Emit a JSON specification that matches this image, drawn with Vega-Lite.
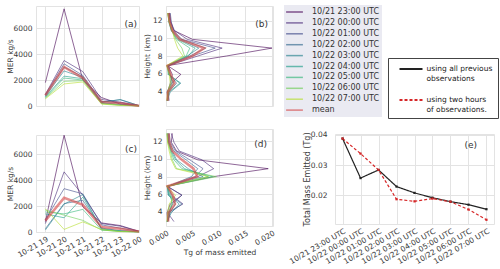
{
"$schema": "https://vega.github.io/schema/vega-lite/v6.json",
"padding": 5,
"background": "white",
"config": {
  "font": "DejaVu Sans",
  "view": {"stroke": "#e3e3e3", "strokeWidth": 1},
  "axis": {"domain": false, "ticks": false, "grid": true, "gridColor": "#e3e3e3", "gridWidth": 1, "labelFontSize": 7.5, "labelColor": "#3a3a3a", "titleFontSize": 7.5, "titleFontWeight": "normal", "titleColor": "#3a3a3a", "labelPadding": 3, "labelOverlap": false, "labelFlush": false},
  "title": {"fontSize": 9, "fontWeight": "normal", "color": "#333333"}
},
"datasets": {
"a": [
{"s":"10/21 23:00 UTC","t":19,"v":1800},{"s":"10/21 23:00 UTC","t":20,"v":7480},{"s":"10/21 23:00 UTC","t":21,"v":2000},{"s":"10/21 23:00 UTC","t":22,"v":650},{"s":"10/21 23:00 UTC","t":23,"v":150},{"s":"10/21 23:00 UTC","t":24,"v":30},
{"s":"10/22 00:00 UTC","t":19,"v":900},{"s":"10/22 00:00 UTC","t":20,"v":3500},{"s":"10/22 00:00 UTC","t":21,"v":2650},{"s":"10/22 00:00 UTC","t":22,"v":500},{"s":"10/22 00:00 UTC","t":23,"v":300},{"s":"10/22 00:00 UTC","t":24,"v":30},
{"s":"10/22 01:00 UTC","t":19,"v":850},{"s":"10/22 01:00 UTC","t":20,"v":3250},{"s":"10/22 01:00 UTC","t":21,"v":2350},{"s":"10/22 01:00 UTC","t":22,"v":350},{"s":"10/22 01:00 UTC","t":23,"v":250},{"s":"10/22 01:00 UTC","t":24,"v":20},
{"s":"10/22 02:00 UTC","t":19,"v":800},{"s":"10/22 02:00 UTC","t":20,"v":3000},{"s":"10/22 02:00 UTC","t":21,"v":2250},{"s":"10/22 02:00 UTC","t":22,"v":300},{"s":"10/22 02:00 UTC","t":23,"v":480},{"s":"10/22 02:00 UTC","t":24,"v":30},
{"s":"10/22 03:00 UTC","t":19,"v":750},{"s":"10/22 03:00 UTC","t":20,"v":2700},{"s":"10/22 03:00 UTC","t":21,"v":2200},{"s":"10/22 03:00 UTC","t":22,"v":280},{"s":"10/22 03:00 UTC","t":23,"v":500},{"s":"10/22 03:00 UTC","t":24,"v":20},
{"s":"10/22 04:00 UTC","t":19,"v":700},{"s":"10/22 04:00 UTC","t":20,"v":2300},{"s":"10/22 04:00 UTC","t":21,"v":2100},{"s":"10/22 04:00 UTC","t":22,"v":250},{"s":"10/22 04:00 UTC","t":23,"v":120},{"s":"10/22 04:00 UTC","t":24,"v":10},
{"s":"10/22 05:00 UTC","t":19,"v":650},{"s":"10/22 05:00 UTC","t":20,"v":2150},{"s":"10/22 05:00 UTC","t":21,"v":2000},{"s":"10/22 05:00 UTC","t":22,"v":200},{"s":"10/22 05:00 UTC","t":23,"v":80},{"s":"10/22 05:00 UTC","t":24,"v":10},
{"s":"10/22 06:00 UTC","t":19,"v":600},{"s":"10/22 06:00 UTC","t":20,"v":1900},{"s":"10/22 06:00 UTC","t":21,"v":1950},{"s":"10/22 06:00 UTC","t":22,"v":180},{"s":"10/22 06:00 UTC","t":23,"v":60},{"s":"10/22 06:00 UTC","t":24,"v":10},
{"s":"10/22 07:00 UTC","t":19,"v":550},{"s":"10/22 07:00 UTC","t":20,"v":1700},{"s":"10/22 07:00 UTC","t":21,"v":1850},{"s":"10/22 07:00 UTC","t":22,"v":150},{"s":"10/22 07:00 UTC","t":23,"v":40},{"s":"10/22 07:00 UTC","t":24,"v":10},
{"s":"mean","t":19,"v":820},{"s":"mean","t":20,"v":3000},{"s":"mean","t":21,"v":2150},{"s":"mean","t":22,"v":300},{"s":"mean","t":23,"v":220},{"s":"mean","t":24,"v":20}
],
"c": [
{"s":"10/21 23:00 UTC","t":19,"v":800},{"s":"10/21 23:00 UTC","t":20,"v":7480},{"s":"10/21 23:00 UTC","t":21,"v":1950},{"s":"10/21 23:00 UTC","t":22,"v":700},{"s":"10/21 23:00 UTC","t":23,"v":500},{"s":"10/21 23:00 UTC","t":24,"v":50},
{"s":"10/22 00:00 UTC","t":19,"v":650},{"s":"10/22 00:00 UTC","t":20,"v":4650},{"s":"10/22 00:00 UTC","t":21,"v":2850},{"s":"10/22 00:00 UTC","t":22,"v":650},{"s":"10/22 00:00 UTC","t":23,"v":450},{"s":"10/22 00:00 UTC","t":24,"v":50},
{"s":"10/22 01:00 UTC","t":19,"v":950},{"s":"10/22 01:00 UTC","t":20,"v":3350},{"s":"10/22 01:00 UTC","t":21,"v":2950},{"s":"10/22 01:00 UTC","t":22,"v":550},{"s":"10/22 01:00 UTC","t":23,"v":300},{"s":"10/22 01:00 UTC","t":24,"v":40},
{"s":"10/22 02:00 UTC","t":19,"v":250},{"s":"10/22 02:00 UTC","t":20,"v":2200},{"s":"10/22 02:00 UTC","t":21,"v":2450},{"s":"10/22 02:00 UTC","t":22,"v":300},{"s":"10/22 02:00 UTC","t":23,"v":100},{"s":"10/22 02:00 UTC","t":24,"v":30},
{"s":"10/22 03:00 UTC","t":19,"v":150},{"s":"10/22 03:00 UTC","t":20,"v":2150},{"s":"10/22 03:00 UTC","t":21,"v":2900},{"s":"10/22 03:00 UTC","t":22,"v":200},{"s":"10/22 03:00 UTC","t":23,"v":80},{"s":"10/22 03:00 UTC","t":24,"v":20},
{"s":"10/22 04:00 UTC","t":19,"v":1400},{"s":"10/22 04:00 UTC","t":20,"v":1100},{"s":"10/22 04:00 UTC","t":21,"v":2700},{"s":"10/22 04:00 UTC","t":22,"v":250},{"s":"10/22 04:00 UTC","t":23,"v":60},{"s":"10/22 04:00 UTC","t":24,"v":20},
{"s":"10/22 05:00 UTC","t":19,"v":1550},{"s":"10/22 05:00 UTC","t":20,"v":1400},{"s":"10/22 05:00 UTC","t":21,"v":1750},{"s":"10/22 05:00 UTC","t":22,"v":150},{"s":"10/22 05:00 UTC","t":23,"v":50},{"s":"10/22 05:00 UTC","t":24,"v":10},
{"s":"10/22 06:00 UTC","t":19,"v":1700},{"s":"10/22 06:00 UTC","t":20,"v":1300},{"s":"10/22 06:00 UTC","t":21,"v":900},{"s":"10/22 06:00 UTC","t":22,"v":150},{"s":"10/22 06:00 UTC","t":23,"v":40},{"s":"10/22 06:00 UTC","t":24,"v":10},
{"s":"10/22 07:00 UTC","t":19,"v":1800},{"s":"10/22 07:00 UTC","t":20,"v":200},{"s":"10/22 07:00 UTC","t":21,"v":780},{"s":"10/22 07:00 UTC","t":22,"v":200},{"s":"10/22 07:00 UTC","t":23,"v":30},{"s":"10/22 07:00 UTC","t":24,"v":10},
{"s":"mean","t":19,"v":880},{"s":"mean","t":20,"v":2640},{"s":"mean","t":21,"v":2100},{"s":"mean","t":22,"v":380},{"s":"mean","t":23,"v":250},{"s":"mean","t":24,"v":40}
],
"b": [
{"s":"10/21 23:00 UTC","h":2.9,"v":0.0004},{"s":"10/21 23:00 UTC","h":3.9,"v":0.0002},{"s":"10/21 23:00 UTC","h":4.9,"v":0.0010},{"s":"10/21 23:00 UTC","h":5.9,"v":0.0028},{"s":"10/21 23:00 UTC","h":6.9,"v":0.0003},{"s":"10/21 23:00 UTC","h":8.0,"v":0.0114},{"s":"10/21 23:00 UTC","h":8.9,"v":0.0200},{"s":"10/21 23:00 UTC","h":9.9,"v":0.0050},{"s":"10/21 23:00 UTC","h":10.9,"v":0.0015},{"s":"10/21 23:00 UTC","h":11.9,"v":0.0008},{"s":"10/21 23:00 UTC","h":12.9,"v":0.0006},
{"s":"10/22 00:00 UTC","h":2.9,"v":0.0003},{"s":"10/22 00:00 UTC","h":3.9,"v":0.0003},{"s":"10/22 00:00 UTC","h":4.9,"v":0.0008},{"s":"10/22 00:00 UTC","h":5.9,"v":0.0012},{"s":"10/22 00:00 UTC","h":6.9,"v":0.0004},{"s":"10/22 00:00 UTC","h":8.0,"v":0.0060},{"s":"10/22 00:00 UTC","h":8.9,"v":0.0106},{"s":"10/22 00:00 UTC","h":9.9,"v":0.0040},{"s":"10/22 00:00 UTC","h":10.9,"v":0.0016},{"s":"10/22 00:00 UTC","h":11.9,"v":0.0009},{"s":"10/22 00:00 UTC","h":12.9,"v":0.0007},
{"s":"10/22 01:00 UTC","h":2.9,"v":0.0006},{"s":"10/22 01:00 UTC","h":3.9,"v":0.0004},{"s":"10/22 01:00 UTC","h":4.9,"v":0.0012},{"s":"10/22 01:00 UTC","h":5.9,"v":0.0008},{"s":"10/22 01:00 UTC","h":6.9,"v":0.0005},{"s":"10/22 01:00 UTC","h":8.0,"v":0.0050},{"s":"10/22 01:00 UTC","h":8.9,"v":0.0093},{"s":"10/22 01:00 UTC","h":9.9,"v":0.0030},{"s":"10/22 01:00 UTC","h":10.9,"v":0.0014},{"s":"10/22 01:00 UTC","h":11.9,"v":0.0010},{"s":"10/22 01:00 UTC","h":12.9,"v":0.0008},
{"s":"10/22 02:00 UTC","h":2.9,"v":0.0003},{"s":"10/22 02:00 UTC","h":3.9,"v":0.0005},{"s":"10/22 02:00 UTC","h":4.9,"v":0.0020},{"s":"10/22 02:00 UTC","h":5.9,"v":0.0006},{"s":"10/22 02:00 UTC","h":6.9,"v":0.0003},{"s":"10/22 02:00 UTC","h":8.0,"v":0.0045},{"s":"10/22 02:00 UTC","h":8.9,"v":0.0075},{"s":"10/22 02:00 UTC","h":9.9,"v":0.0028},{"s":"10/22 02:00 UTC","h":10.9,"v":0.0012},{"s":"10/22 02:00 UTC","h":11.9,"v":0.0007},{"s":"10/22 02:00 UTC","h":12.9,"v":0.0006},
{"s":"10/22 03:00 UTC","h":2.9,"v":0.0002},{"s":"10/22 03:00 UTC","h":3.9,"v":0.0008},{"s":"10/22 03:00 UTC","h":4.9,"v":0.0028},{"s":"10/22 03:00 UTC","h":5.9,"v":0.0005},{"s":"10/22 03:00 UTC","h":6.9,"v":0.0004},{"s":"10/22 03:00 UTC","h":8.0,"v":0.0040},{"s":"10/22 03:00 UTC","h":8.9,"v":0.0062},{"s":"10/22 03:00 UTC","h":9.9,"v":0.0025},{"s":"10/22 03:00 UTC","h":10.9,"v":0.0011},{"s":"10/22 03:00 UTC","h":11.9,"v":0.0006},{"s":"10/22 03:00 UTC","h":12.9,"v":0.0005},
{"s":"10/22 04:00 UTC","h":2.9,"v":0.0002},{"s":"10/22 04:00 UTC","h":3.9,"v":0.0006},{"s":"10/22 04:00 UTC","h":4.9,"v":0.0026},{"s":"10/22 04:00 UTC","h":5.9,"v":0.0004},{"s":"10/22 04:00 UTC","h":6.9,"v":0.0003},{"s":"10/22 04:00 UTC","h":8.0,"v":0.0042},{"s":"10/22 04:00 UTC","h":8.9,"v":0.0055},{"s":"10/22 04:00 UTC","h":9.9,"v":0.0022},{"s":"10/22 04:00 UTC","h":10.9,"v":0.0010},{"s":"10/22 04:00 UTC","h":11.9,"v":0.0006},{"s":"10/22 04:00 UTC","h":12.9,"v":0.0004},
{"s":"10/22 05:00 UTC","h":2.9,"v":0.0003},{"s":"10/22 05:00 UTC","h":3.9,"v":0.0005},{"s":"10/22 05:00 UTC","h":4.9,"v":0.0015},{"s":"10/22 05:00 UTC","h":5.9,"v":0.0006},{"s":"10/22 05:00 UTC","h":6.9,"v":0.0002},{"s":"10/22 05:00 UTC","h":8.0,"v":0.0038},{"s":"10/22 05:00 UTC","h":8.9,"v":0.0045},{"s":"10/22 05:00 UTC","h":9.9,"v":0.0020},{"s":"10/22 05:00 UTC","h":10.9,"v":0.0010},{"s":"10/22 05:00 UTC","h":11.9,"v":0.0005},{"s":"10/22 05:00 UTC","h":12.9,"v":0.0004},
{"s":"10/22 06:00 UTC","h":2.9,"v":0.0002},{"s":"10/22 06:00 UTC","h":3.9,"v":0.0004},{"s":"10/22 06:00 UTC","h":4.9,"v":0.0010},{"s":"10/22 06:00 UTC","h":5.9,"v":0.0008},{"s":"10/22 06:00 UTC","h":6.9,"v":0.0002},{"s":"10/22 06:00 UTC","h":8.0,"v":0.0035},{"s":"10/22 06:00 UTC","h":8.9,"v":0.0030},{"s":"10/22 06:00 UTC","h":9.9,"v":0.0018},{"s":"10/22 06:00 UTC","h":10.9,"v":0.0012},{"s":"10/22 06:00 UTC","h":11.9,"v":0.0006},{"s":"10/22 06:00 UTC","h":12.9,"v":0.0003},
{"s":"10/22 07:00 UTC","h":2.9,"v":0.0002},{"s":"10/22 07:00 UTC","h":3.9,"v":0.0003},{"s":"10/22 07:00 UTC","h":4.9,"v":0.0008},{"s":"10/22 07:00 UTC","h":5.9,"v":0.0006},{"s":"10/22 07:00 UTC","h":6.9,"v":0.0001},{"s":"10/22 07:00 UTC","h":8.0,"v":0.0032},{"s":"10/22 07:00 UTC","h":8.9,"v":0.0022},{"s":"10/22 07:00 UTC","h":9.9,"v":0.0016},{"s":"10/22 07:00 UTC","h":10.9,"v":0.0012},{"s":"10/22 07:00 UTC","h":11.9,"v":0.0006},{"s":"10/22 07:00 UTC","h":12.9,"v":0.0003},
{"s":"mean","h":2.9,"v":0.0003},{"s":"mean","h":3.9,"v":0.0004},{"s":"mean","h":4.9,"v":0.0016},{"s":"mean","h":5.9,"v":0.0009},{"s":"mean","h":6.9,"v":0.0003},{"s":"mean","h":8.0,"v":0.0050},{"s":"mean","h":8.9,"v":0.0072},{"s":"mean","h":9.9,"v":0.0026},{"s":"mean","h":10.9,"v":0.0012},{"s":"mean","h":11.9,"v":0.0007},{"s":"mean","h":12.9,"v":0.0005}
],
"d": [
{"s":"10/21 23:00 UTC","h":2.9,"v":0.0003},{"s":"10/21 23:00 UTC","h":3.9,"v":0.0002},{"s":"10/21 23:00 UTC","h":4.9,"v":0.0008},{"s":"10/21 23:00 UTC","h":5.9,"v":0.0030},{"s":"10/21 23:00 UTC","h":6.9,"v":0.0002},{"s":"10/21 23:00 UTC","h":8.0,"v":0.0090},{"s":"10/21 23:00 UTC","h":8.9,"v":0.0193},{"s":"10/21 23:00 UTC","h":9.9,"v":0.0060},{"s":"10/21 23:00 UTC","h":10.9,"v":0.0020},{"s":"10/21 23:00 UTC","h":11.9,"v":0.0010},{"s":"10/21 23:00 UTC","h":12.9,"v":0.0012},
{"s":"10/22 00:00 UTC","h":2.9,"v":0.0015},{"s":"10/22 00:00 UTC","h":3.9,"v":0.0003},{"s":"10/22 00:00 UTC","h":4.9,"v":0.0032},{"s":"10/22 00:00 UTC","h":5.9,"v":0.0010},{"s":"10/22 00:00 UTC","h":6.9,"v":0.0004},{"s":"10/22 00:00 UTC","h":8.0,"v":0.0060},{"s":"10/22 00:00 UTC","h":8.9,"v":0.0090},{"s":"10/22 00:00 UTC","h":9.9,"v":0.0068},{"s":"10/22 00:00 UTC","h":10.9,"v":0.0025},{"s":"10/22 00:00 UTC","h":11.9,"v":0.0015},{"s":"10/22 00:00 UTC","h":12.9,"v":0.0010},
{"s":"10/22 01:00 UTC","h":2.9,"v":0.0004},{"s":"10/22 01:00 UTC","h":3.9,"v":0.0006},{"s":"10/22 01:00 UTC","h":4.9,"v":0.0012},{"s":"10/22 01:00 UTC","h":5.9,"v":0.0030},{"s":"10/22 01:00 UTC","h":6.9,"v":0.0003},{"s":"10/22 01:00 UTC","h":8.0,"v":0.0055},{"s":"10/22 01:00 UTC","h":8.9,"v":0.0070},{"s":"10/22 01:00 UTC","h":9.9,"v":0.0045},{"s":"10/22 01:00 UTC","h":10.9,"v":0.0018},{"s":"10/22 01:00 UTC","h":11.9,"v":0.0008},{"s":"10/22 01:00 UTC","h":12.9,"v":0.0006},
{"s":"10/22 02:00 UTC","h":2.9,"v":0.0003},{"s":"10/22 02:00 UTC","h":3.9,"v":0.0008},{"s":"10/22 02:00 UTC","h":4.9,"v":0.0030},{"s":"10/22 02:00 UTC","h":5.9,"v":0.0006},{"s":"10/22 02:00 UTC","h":6.9,"v":0.0004},{"s":"10/22 02:00 UTC","h":8.0,"v":0.0048},{"s":"10/22 02:00 UTC","h":8.9,"v":0.0060},{"s":"10/22 02:00 UTC","h":9.9,"v":0.0038},{"s":"10/22 02:00 UTC","h":10.9,"v":0.0015},{"s":"10/22 02:00 UTC","h":11.9,"v":0.0006},{"s":"10/22 02:00 UTC","h":12.9,"v":0.0005},
{"s":"10/22 03:00 UTC","h":2.9,"v":0.0002},{"s":"10/22 03:00 UTC","h":3.9,"v":0.0010},{"s":"10/22 03:00 UTC","h":4.9,"v":0.0025},{"s":"10/22 03:00 UTC","h":5.9,"v":0.0004},{"s":"10/22 03:00 UTC","h":6.9,"v":0.0003},{"s":"10/22 03:00 UTC","h":8.0,"v":0.0070},{"s":"10/22 03:00 UTC","h":8.9,"v":0.0042},{"s":"10/22 03:00 UTC","h":9.9,"v":0.0020},{"s":"10/22 03:00 UTC","h":10.9,"v":0.0012},{"s":"10/22 03:00 UTC","h":11.9,"v":0.0005},{"s":"10/22 03:00 UTC","h":12.9,"v":0.0004},
{"s":"10/22 04:00 UTC","h":2.9,"v":0.0002},{"s":"10/22 04:00 UTC","h":3.9,"v":0.0007},{"s":"10/22 04:00 UTC","h":4.9,"v":0.0018},{"s":"10/22 04:00 UTC","h":5.9,"v":0.0005},{"s":"10/22 04:00 UTC","h":6.9,"v":0.0002},{"s":"10/22 04:00 UTC","h":8.0,"v":0.0080},{"s":"10/22 04:00 UTC","h":8.9,"v":0.0035},{"s":"10/22 04:00 UTC","h":9.9,"v":0.0018},{"s":"10/22 04:00 UTC","h":10.9,"v":0.0010},{"s":"10/22 04:00 UTC","h":11.9,"v":0.0005},{"s":"10/22 04:00 UTC","h":12.9,"v":0.0003},
{"s":"10/22 05:00 UTC","h":2.9,"v":0.0003},{"s":"10/22 05:00 UTC","h":3.9,"v":0.0005},{"s":"10/22 05:00 UTC","h":4.9,"v":0.0012},{"s":"10/22 05:00 UTC","h":5.9,"v":0.0008},{"s":"10/22 05:00 UTC","h":6.9,"v":0.0002},{"s":"10/22 05:00 UTC","h":8.0,"v":0.0088},{"s":"10/22 05:00 UTC","h":8.9,"v":0.0030},{"s":"10/22 05:00 UTC","h":9.9,"v":0.0015},{"s":"10/22 05:00 UTC","h":10.9,"v":0.0009},{"s":"10/22 05:00 UTC","h":11.9,"v":0.0004},{"s":"10/22 05:00 UTC","h":12.9,"v":0.0002},
{"s":"10/22 06:00 UTC","h":2.9,"v":0.0002},{"s":"10/22 06:00 UTC","h":3.9,"v":0.0004},{"s":"10/22 06:00 UTC","h":4.9,"v":0.0010},{"s":"10/22 06:00 UTC","h":5.9,"v":0.0012},{"s":"10/22 06:00 UTC","h":6.9,"v":0.0003},{"s":"10/22 06:00 UTC","h":8.0,"v":0.0095},{"s":"10/22 06:00 UTC","h":8.9,"v":0.0020},{"s":"10/22 06:00 UTC","h":9.9,"v":0.0012},{"s":"10/22 06:00 UTC","h":10.9,"v":0.0008},{"s":"10/22 06:00 UTC","h":11.9,"v":0.0003},{"s":"10/22 06:00 UTC","h":12.9,"v":0.0002},
{"s":"10/22 07:00 UTC","h":2.9,"v":0.0002},{"s":"10/22 07:00 UTC","h":3.9,"v":0.0003},{"s":"10/22 07:00 UTC","h":4.9,"v":0.0006},{"s":"10/22 07:00 UTC","h":5.9,"v":0.0018},{"s":"10/22 07:00 UTC","h":6.9,"v":0.0001},{"s":"10/22 07:00 UTC","h":8.0,"v":0.0080},{"s":"10/22 07:00 UTC","h":8.9,"v":0.0018},{"s":"10/22 07:00 UTC","h":9.9,"v":0.0010},{"s":"10/22 07:00 UTC","h":10.9,"v":0.0006},{"s":"10/22 07:00 UTC","h":11.9,"v":0.0003},{"s":"10/22 07:00 UTC","h":12.9,"v":0.0002},
{"s":"mean","h":2.9,"v":0.0004},{"s":"mean","h":3.9,"v":0.0005},{"s":"mean","h":4.9,"v":0.0017},{"s":"mean","h":5.9,"v":0.0013},{"s":"mean","h":6.9,"v":0.0003},{"s":"mean","h":8.0,"v":0.0059},{"s":"mean","h":8.9,"v":0.0052},{"s":"mean","h":9.9,"v":0.0030},{"s":"mean","h":10.9,"v":0.0012},{"s":"mean","h":11.9,"v":0.0006},{"s":"mean","h":12.9,"v":0.0005}
],
"e": [
{"method":"using all previous observations","time":"10/21 23:00 UTC","mass":0.0388},
{"method":"using all previous observations","time":"10/22 00:00 UTC","mass":0.0257},
{"method":"using all previous observations","time":"10/22 01:00 UTC","mass":0.0284},
{"method":"using all previous observations","time":"10/22 02:00 UTC","mass":0.0229},
{"method":"using all previous observations","time":"10/22 03:00 UTC","mass":0.0208},
{"method":"using all previous observations","time":"10/22 04:00 UTC","mass":0.0192},
{"method":"using all previous observations","time":"10/22 05:00 UTC","mass":0.0179},
{"method":"using all previous observations","time":"10/22 06:00 UTC","mass":0.0169},
{"method":"using all previous observations","time":"10/22 07:00 UTC","mass":0.0154},
{"method":"using two hours of observations.","time":"10/21 23:00 UTC","mass":0.0388},
{"method":"using two hours of observations.","time":"10/22 00:00 UTC","mass":0.0338},
{"method":"using two hours of observations.","time":"10/22 01:00 UTC","mass":0.0284},
{"method":"using two hours of observations.","time":"10/22 02:00 UTC","mass":0.0187},
{"method":"using two hours of observations.","time":"10/22 03:00 UTC","mass":0.0180},
{"method":"using two hours of observations.","time":"10/22 04:00 UTC","mass":0.0189},
{"method":"using two hours of observations.","time":"10/22 05:00 UTC","mass":0.0179},
{"method":"using two hours of observations.","time":"10/22 06:00 UTC","mass":0.0153},
{"method":"using two hours of observations.","time":"10/22 07:00 UTC","mass":0.0119}
]
},
"spacing": 7,
"resolve": {"scale": {"color": "independent", "strokeDash": "independent", "x": "independent", "y": "independent"}, "legend": {"color": "independent", "strokeDash": "independent"}},
"hconcat": [
{
 "spacing": -3,
 "resolve": {"scale": {"color": "independent", "strokeDash": "independent", "x": "independent", "y": "independent"}, "legend": {"color": "independent", "strokeDash": "independent"}},
 "hconcat": [
  {
   "spacing": 20,
   "resolve": {"scale": {"color": "independent", "strokeDash": "independent", "x": "independent", "y": "independent"}, "legend": {"color": "independent", "strokeDash": "independent"}},
   "vconcat": [
    {
     "width": 103, "height": 100,
     "data": {"name": "a"},
     "title": {"text": "(a)", "anchor": "end", "frame": "group", "offset": -23, "dx": -2},
     "mark": {"type": "line", "opacity": 0.6},
     "encoding": {
      "x": {"field": "t", "type": "quantitative", "scale": {"domain": [18.5, 24], "nice": false, "zero": false}, "axis": {"values": [19,20,21,22,23,24], "labels": false, "title": null}},
      "y": {"field": "v", "type": "quantitative", "scale": {"domain": [0, 7700], "nice": false}, "axis": {"values": [0,2000,4000,6000], "format": "d", "title": "MER kg/s", "minExtent": 21, "maxExtent": 21, "titlePadding": 1, "labelPadding": 4}},
      "color": {"field": "s", "type": "nominal", "scale": {"domain": ["10/21 23:00 UTC","10/22 00:00 UTC","10/22 01:00 UTC","10/22 02:00 UTC","10/22 03:00 UTC","10/22 04:00 UTC","10/22 05:00 UTC","10/22 06:00 UTC","10/22 07:00 UTC","mean"], "range": ["#440154","#482878","#3e4989","#31688e","#26828e","#1f9e89","#35b779","#6ece58","#b5de2b","#d64545"]}, "legend": null},
      "strokeWidth": {"condition": {"test": "datum.s === 'mean'", "value": 2.5}, "value": 1}
     }
    },
    {
     "width": 103, "height": 97,
     "data": {"name": "c"},
     "title": {"text": "(c)", "anchor": "end", "frame": "group", "offset": -21, "dx": -2},
     "mark": {"type": "line", "opacity": 0.6},
     "encoding": {
      "x": {"field": "t", "type": "quantitative", "scale": {"domain": [18.5, 24], "nice": false, "zero": false}, "axis": {"values": [19,20,21,22,23,24], "labelAngle": -30, "labelExpr": "datum.value == 24 ? '10-22 00' : '10-21 ' + datum.value", "title": null}},
      "y": {"field": "v", "type": "quantitative", "scale": {"domain": [0, 7500], "nice": false}, "axis": {"values": [0,2000,4000,6000], "format": "d", "title": "MER kg/s", "minExtent": 21, "maxExtent": 21, "titlePadding": 1, "labelPadding": 4}},
      "color": {"field": "s", "type": "nominal", "scale": {"domain": ["10/21 23:00 UTC","10/22 00:00 UTC","10/22 01:00 UTC","10/22 02:00 UTC","10/22 03:00 UTC","10/22 04:00 UTC","10/22 05:00 UTC","10/22 06:00 UTC","10/22 07:00 UTC","mean"], "range": ["#440154","#482878","#3e4989","#31688e","#26828e","#1f9e89","#35b779","#6ece58","#b5de2b","#d64545"]}, "legend": null},
      "strokeWidth": {"condition": {"test": "datum.s === 'mean'", "value": 2.5}, "value": 1}
     }
    }
   ]
  },
  {
   "spacing": 20,
   "resolve": {"scale": {"color": "independent", "strokeDash": "independent", "x": "independent", "y": "independent"}, "legend": {"color": "independent", "strokeDash": "independent"}},
   "vconcat": [
    {
     "width": 107, "height": 100,
     "data": {"name": "b"},
     "title": {"text": "(b)", "anchor": "end", "frame": "group", "offset": -23, "dx": -5},
     "mark": {"type": "line", "opacity": 0.6},
     "encoding": {
      "x": {"field": "v", "type": "quantitative", "scale": {"domain": [0, 0.0202], "nice": false}, "axis": {"values": [0,0.005,0.01,0.015,0.02], "labels": false, "title": null}},
      "y": {"field": "h", "type": "quantitative", "scale": {"domain": [2.3, 13.7], "nice": false, "zero": false}, "axis": {"values": [4,6,8,10,12], "title": "Height (km)", "minExtent": 13, "maxExtent": 13, "titlePadding": 2, "labelPadding": 4}},
      "order": {"field": "h", "type": "quantitative"},
      "color": {"field": "s", "type": "nominal", "scale": {"domain": ["10/21 23:00 UTC","10/22 00:00 UTC","10/22 01:00 UTC","10/22 02:00 UTC","10/22 03:00 UTC","10/22 04:00 UTC","10/22 05:00 UTC","10/22 06:00 UTC","10/22 07:00 UTC","mean"], "range": ["#440154","#482878","#3e4989","#31688e","#26828e","#1f9e89","#35b779","#6ece58","#b5de2b","#d64545"]}, "legend": null},
      "strokeWidth": {"condition": {"test": "datum.s === 'mean'", "value": 2.5}, "value": 1}
     }
    },
    {
     "width": 107, "height": 97,
     "data": {"name": "d"},
     "title": {"text": "(d)", "anchor": "end", "frame": "group", "offset": -21, "dx": -6},
     "mark": {"type": "line", "opacity": 0.6},
     "encoding": {
      "x": {"field": "v", "type": "quantitative", "scale": {"domain": [0, 0.0202], "nice": false}, "axis": {"values": [0,0.005,0.01,0.015,0.02], "format": ".3f", "labelAngle": -30, "title": "Tg of mass emitted", "titlePadding": 2}},
      "y": {"field": "h", "type": "quantitative", "scale": {"domain": [2.4, 13.4], "nice": false, "zero": false}, "axis": {"values": [4,6,8,10,12], "title": "Height (km)", "minExtent": 13, "maxExtent": 13, "titlePadding": 2, "labelPadding": 4}},
      "order": {"field": "h", "type": "quantitative"},
      "color": {"field": "s", "type": "nominal", "scale": {"domain": ["10/21 23:00 UTC","10/22 00:00 UTC","10/22 01:00 UTC","10/22 02:00 UTC","10/22 03:00 UTC","10/22 04:00 UTC","10/22 05:00 UTC","10/22 06:00 UTC","10/22 07:00 UTC","mean"], "range": ["#440154","#482878","#3e4989","#31688e","#26828e","#1f9e89","#35b779","#6ece58","#b5de2b","#d64545"]}, "legend": null},
      "strokeWidth": {"condition": {"test": "datum.s === 'mean'", "value": 2.5}, "value": 1}
     }
    }
   ]
  }
 ]
},
{
 "spacing": 0,
 "resolve": {"scale": {"color": "independent", "strokeDash": "independent", "x": "independent", "y": "independent"}, "legend": {"color": "independent", "strokeDash": "independent"}},
 "vconcat": [
  {
   "width": 159, "height": 124,
   "view": {"stroke": null},
   "resolve": {"scale": {"color": "independent", "strokeDash": "independent"}, "legend": {"color": "independent", "strokeDash": "independent"}},
   "layer": [
    {
     "data": {"name": "a"},
     "mark": {"type": "line", "opacity": 0},
     "encoding": {
      "color": {"field": "s", "type": "nominal", "scale": {"domain": ["10/21 23:00 UTC","10/22 00:00 UTC","10/22 01:00 UTC","10/22 02:00 UTC","10/22 03:00 UTC","10/22 04:00 UTC","10/22 05:00 UTC","10/22 06:00 UTC","10/22 07:00 UTC","mean"], "range": ["#440154","#482878","#3e4989","#31688e","#26828e","#1f9e89","#35b779","#6ece58","#b5de2b","#d64545"]},
        "legend": {"orient": "none", "legendX": -51, "legendY": -1, "title": null, "fillColor": "#eaeaf2", "padding": 2, "symbolOffset": 3.5, "symbolType": "M-2.1,0L2.1,0", "symbolSize": 64, "symbolStrokeWidth": 1.5, "symbolOpacity": 0.65, "labelFontSize": 8, "labelOffset": 12.5, "rowPadding": 1.9, "labelColor": "#333333", "labelLimit": 200}}
     }
    },
    {
     "data": {"name": "e"},
     "mark": {"type": "line", "opacity": 0},
     "encoding": {
      "color": {"field": "method", "type": "nominal", "scale": {"domain": ["using all previous observations","using two hours of observations."], "range": ["#222222","#d62728"]},
        "legend": {"orient": "none", "legendX": 53, "legendY": 52, "title": null, "fillColor": "white", "strokeColor": "#444444", "padding": 5, "symbolOffset": 12, "symbolType": "M-2.3,0L2.3,0", "symbolSize": 100, "symbolStrokeWidth": 2, "symbolOpacity": 1, "labelFontSize": 7.5, "labelOffset": 9.5, "rowPadding": 12, "labelColor": "#222222", "labelLimit": 200,
          "labelExpr": "datum.label == 'using all previous observations' ? ['using all previous', 'observations'] : ['using two hours', 'of observations.']"}},
      "strokeDash": {"field": "method", "type": "nominal", "scale": {"domain": ["using all previous observations","using two hours of observations."], "range": [[1,0],[3,2]]},
        "legend": {"orient": "none", "legendX": 53, "legendY": 52, "title": null, "fillColor": "white", "strokeColor": "#444444", "padding": 5, "symbolOffset": 12, "symbolType": "M-2.3,0L2.3,0", "symbolSize": 100, "symbolStrokeWidth": 2, "symbolOpacity": 1, "labelFontSize": 7.5, "labelOffset": 9.5, "rowPadding": 12, "labelColor": "#222222", "labelLimit": 200,
          "labelExpr": "datum.label == 'using all previous observations' ? ['using all previous', 'observations'] : ['using two hours', 'of observations.']"}}
     }
    }
   ]
  },
  {
   "width": 159, "height": 90,
   "data": {"name": "e"},
   "title": {"text": "(e)", "anchor": "end", "frame": "group", "offset": -19, "dx": -17},
   "mark": {"type": "line", "strokeWidth": 1.2, "point": {"filled": true, "size": 5, "shape": "square"}},
   "encoding": {
    "x": {"field": "time", "type": "ordinal", "scale": {"type": "point", "padding": 0.42}, "axis": {"labelAngle": -30, "title": null, "grid": true}},
    "y": {"field": "mass", "type": "quantitative", "scale": {"domain": [0.0105, 0.0403], "nice": false, "zero": false}, "axis": {"values": [0.02,0.03,0.04], "format": ".2f", "title": "Total Mass Emitted (Tg)", "titleFontSize": 8, "labelPadding": 8, "minExtent": 22, "maxExtent": 22, "titlePadding": 2}},
    "color": {"field": "method", "type": "nominal", "scale": {"domain": ["using all previous observations","using two hours of observations."], "range": ["#222222","#d62728"]}, "legend": null},
    "strokeDash": {"field": "method", "type": "nominal", "scale": {"domain": ["using all previous observations","using two hours of observations."], "range": [[1,0],[3,2]]}, "legend": null}
   }
  }
 ]
}
]
}
